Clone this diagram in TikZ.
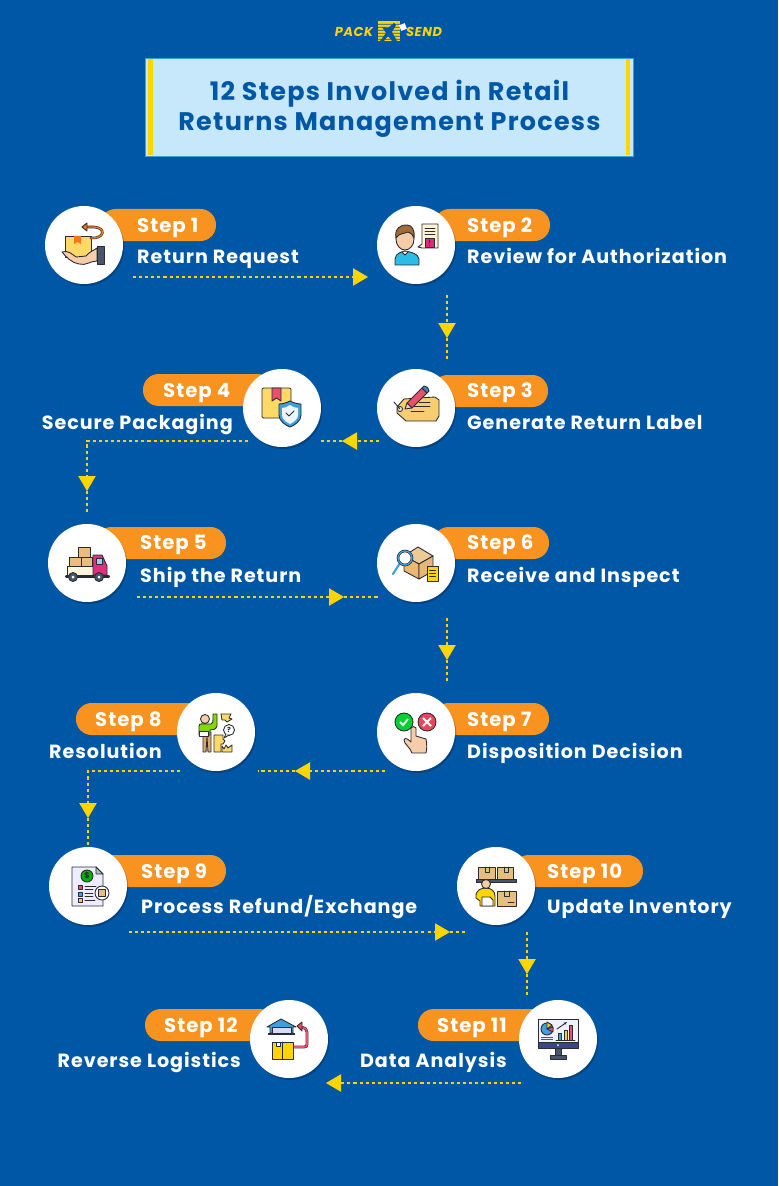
\documentclass[tikz,border=0pt]{standalone}
\usepackage{fontspec}
\setmainfont{Poppins}[LetterSpace=5]
\usepackage{tikz}
\usetikzlibrary{arrows.meta,shadows}

\definecolor{bgblue}{HTML}{0057A6}
\definecolor{boxblue}{HTML}{C6E8FA}
\definecolor{pillorange}{HTML}{F7931E}
\definecolor{markyellow}{HTML}{FFD500}
\definecolor{iconline}{HTML}{2B2B33}
\definecolor{boxtan}{HTML}{E9BE7D}
\definecolor{boxyellow}{HTML}{FFD966}
\definecolor{skin}{HTML}{F5CDA8}
\definecolor{slate}{HTML}{46566E}
\definecolor{rosered}{HTML}{E8506E}
\definecolor{deeppink}{HTML}{E0287F}
\definecolor{skyblue}{HTML}{3F9FDC}

\tikzset{
    stepcircle/.style={circle, fill=white, inner sep=0pt, minimum size=2.34cm,
        drop shadow={shadow xshift=.04cm, shadow yshift=-.06cm, opacity=.22, fill=black}},
    pill/.style={fill=pillorange, rounded corners=.47cm, inner sep=0pt, minimum height=.96cm},
    stepname/.style={anchor=base west, inner sep=0pt, text=white, font=\fontsize{16.8}{18}\selectfont\bfseries},
    steptitle/.style={anchor=base west, inner sep=0pt, text=white, font=\fontsize{16.3}{18}\selectfont\bfseries},
    lefttitle/.style={steptitle, anchor=base east},
    flow/.style={draw=markyellow, line width=.9pt, dash pattern=on 2.6pt off 2.6pt},
    tipped/.style={-{Triangle[length=.45cm, width=.52cm, fill=markyellow]}},
    ink/.style={draw=iconline, line width=.75pt, line join=round, line cap=round},
}

\begin{document}
\begin{tikzpicture}[x=.03cm, y=-.03cm]
    \fill[bgblue] (0,0) rectangle (778,1186);
    \useasboundingbox (0,0) rectangle (778,1186);

    % logo
    \node[inner sep=0pt, text=markyellow, font=\fontsize{11}{11}\selectfont\bfseries\itshape] (pack) at (354,32) {PACK};
    \node[inner sep=0pt, text=markyellow, font=\fontsize{11}{11}\selectfont\bfseries\itshape] (send) at (424,32) {SEND};
    \fill[markyellow] (378,21) rectangle (400,41);
    \fill[bgblue] (378,24) rectangle (400,24.7) (378,27) rectangle (400,27.7) (378,30) rectangle (400,30.7)
        (378,33) rectangle (400,33.7) (378,36) rectangle (400,36.7) (378,39) rectangle (400,39.7);
    \fill[bgblue] (382,27) -- (388,28) -- (394,23) -- (396,25) -- (392,32) -- (397,41) -- (392,41) -- (388,36) -- (384,41) -- (380,41) -- (386,33) -- cycle;
    \fill[white, rotate around={20:(403,27)}] (400,24) rectangle (406,30);
    \node[inner sep=0pt, text=boxblue!70!bgblue, font=\fontsize{3}{3}\selectfont] (reg) at (440,39) {®};

    % title
    \node[draw=skyblue, line width=.5pt, fill=boxblue, minimum width=14.64cm, minimum height=2.94cm, inner sep=0pt] (titlebox) at (389,107) {};
    \fill[markyellow] (148,59) rectangle (153,155);
    \fill[markyellow] (625.5,59) rectangle (630,155);
    \node[inner sep=0pt, text=bgblue, font=\fontsize{21.7}{25.6}\selectfont\bfseries, align=center] (title) at (389.5,109) {12 Steps Involved in Retail\\Returns Management Process};

    % connectors
    \coordinate (a1) at (133,277);
    \coordinate (b1) at (368,277);
    \coordinate (a2) at (447,295);
    \coordinate (t2) at (447,338);
    \coordinate (b2) at (447,360);
    \coordinate (a3) at (379,441);
    \coordinate (t3) at (342,441);
    \coordinate (b3) at (321,441);
    \coordinate (a4) at (248,441);
    \coordinate (t4) at (87,491);
    \coordinate (b4) at (87,512);
    \coordinate (a5) at (137,597);
    \coordinate (t5) at (344,597);
    \coordinate (b5) at (380,597);
    \coordinate (a6) at (447,618);
    \coordinate (t6) at (447,660);
    \coordinate (b6) at (447,683);
    \coordinate (a7) at (385,771);
    \coordinate (t7) at (295,771);
    \coordinate (b7) at (258,771);
    \coordinate (a8) at (180,771);
    \coordinate (t8) at (88,818);
    \coordinate (b8) at (88,845);
    \coordinate (a9) at (129,932);
    \coordinate (t9) at (450,932);
    \coordinate (b9) at (465,932);
    \coordinate (a10) at (527,932);
    \coordinate (t10) at (527,974);
    \coordinate (b10) at (527,997);
    \coordinate (a11) at (521,1083);
    \coordinate (b11) at (326,1083);

    \draw[flow, tipped] (a1) -- (b1);
    \draw[flow, tipped] (a2) -- (t2);
    \draw[flow] (t2) -- (b2);
    \draw[flow, tipped] (a3) -- (t3);
    \draw[flow] (t3) -- (b3);
    \draw[flow, tipped] (a4) -| (t4);
    \draw[flow] (t4) -- (b4);
    \draw[flow, tipped] (a5) -- (t5);
    \draw[flow] (t5) -- (b5);
    \draw[flow, tipped] (a6) -- (t6);
    \draw[flow] (t6) -- (b6);
    \draw[flow, tipped] (a7) -- (t7);
    \draw[flow] (t7) -- (b7);
    \draw[flow, tipped] (a8) -| (t8);
    \draw[flow] (t8) -- (b8);
    \draw[flow, tipped] (a9) -- (t9);
    \draw[flow] (t9) -- (b9);
    \draw[flow, tipped] (a10) -- (t10);
    \draw[flow] (t10) -- (b10);
    \draw[flow, tipped] (a11) -- (b11);

    % pills
    \node[pill, minimum width=3.48cm] (p1) at (158,225) {};
    \node[pill, minimum width=3.48cm] (p2) at (492,225) {};
    \node[pill, minimum width=3.48cm] (p3) at (490,391) {};
    \node[pill, minimum width=3.9cm] (p4) at (208,390) {};
    \node[pill, minimum width=3.9cm] (p5) at (161,543) {};
    \node[pill, minimum width=3.48cm] (p6) at (491,543) {};
    \node[pill, minimum width=3.48cm] (p7) at (491,719) {};
    \node[pill, minimum width=3.9cm] (p8) at (141,719) {};
    \node[pill, minimum width=3.9cm] (p9) at (161,871) {};
    \node[pill, minimum width=3.9cm] (p10) at (578,871) {};
    \node[pill, minimum width=3.9cm] (p11) at (483,1025) {};
    \node[pill, minimum width=3.9cm] (p12) at (210,1025) {};

    % circles
    \node[stepcircle] (c1) at (84,245) {};
    \node[stepcircle] (c2) at (416,245) {};
    \node[stepcircle] (c3) at (416,408) {};
    \node[stepcircle] (c4) at (282,408) {};
    \node[stepcircle] (c5) at (87,563) {};
    \node[stepcircle] (c6) at (416,563) {};
    \node[stepcircle] (c7) at (416,732) {};
    \node[stepcircle] (c8) at (216,732) {};
    \node[stepcircle] (c9) at (88,886) {};
    \node[stepcircle] (c10) at (496,886) {};
    \node[stepcircle] (c11) at (558,1039) {};
    \node[stepcircle] (c12) at (289,1039) {};

    % labels
    \node[stepname] (s1) at (137,232.5) {Step 1};
    \node[steptitle] (n1) at (137,264) {Return Request};
    \node[stepname] (s2) at (467,232.5) {Step 2};
    \node[steptitle] (n2) at (467,264) {Review for Authorization};
    \node[stepname] (s3) at (467,397.5) {Step 3};
    \node[steptitle] (n3) at (467,429) {Generate Return Label};
    \node[stepname] (s4) at (163,397.5) {Step 4};
    \node[lefttitle] (n4) at (233,429) {Secure Packaging};
    \node[stepname] (s5) at (140,549.5) {Step 5};
    \node[steptitle] (n5) at (140,582.5) {Ship the Return};
    \node[stepname] (s6) at (467,549.5) {Step 6};
    \node[steptitle] (n6) at (467,582.5) {Receive and Inspect};
    \node[stepname] (s7) at (467,726.5) {Step 7};
    \node[steptitle] (n7) at (467,758.5) {Disposition Decision};
    \node[stepname] (s8) at (95,726.5) {Step 8};
    \node[lefttitle] (n8) at (162,758.5) {Resolution};
    \node[stepname] (s9) at (141,878.5) {Step 9};
    \node[steptitle] (n9) at (141,913) {Process Refund/Exchange};
    \node[stepname] (s10) at (547,878.5) {Step 10};
    \node[steptitle] (n10) at (547,913) {Update Inventory};
    \node[stepname] (s11) at (437,1032.5) {Step 11};
    \node[lefttitle] (n11) at (507,1067) {Data Analysis};
    \node[stepname] (s12) at (164,1032.5) {Step 12};
    \node[lefttitle] (n12) at (241,1067) {Reverse Logistics};

    % icon 1, hand with box
    \begin{scope}[shift={(c1)}]
        \draw[ink, fill=boxyellow] (-19,-9) rectangle (7,12);
        \fill[pillorange!80!red] (-10,-9) -- (-3,-9) -- (-3,-1) -- (-6.5,-3) -- (-10,-1) -- cycle;
        \draw[ink, fill=skin] (-22,7) .. controls (-16,5) and (-12,9) .. (-8,12) -- (2,11) .. controls (5,7) and (9,6) .. (13,3) -- (13,16) .. controls (6,16) and (2,21) .. (-5,19) .. controls (-12,18) and (-18,12) .. (-22,7) -- cycle;
        \draw[ink, fill=slate] (13,1) rectangle (20,19);
        \draw[draw=iconline, line width=2.2pt, line cap=round] (7,-7) .. controls (20,-6) and (23,-17) .. (10,-18) -- (2,-18);
        \draw[draw=pillorange!85!red, line width=1.1pt, line cap=round] (7,-7) .. controls (20,-6) and (23,-17) .. (10,-18) -- (2,-18);
        \draw[ink, fill=pillorange!85!red] (-2,-18) -- (3,-22) -- (3,-14) -- cycle;
    \end{scope}

    % icon 2, agent with document
    \begin{scope}[shift={(c2)}]
        \draw[ink, fill=skyblue!70!cyan] (-21,20) -- (-21,14) .. controls (-20,8) and (-15,7) .. (-11,6) .. controls (-6,7) and (2,8) .. (3,14) -- (3,20) -- cycle;
        \draw[ink, fill=skin] (-11,-6) ellipse (9 and 11);
        \draw[ink, fill=brown!85!black] (-20,-7) .. controls (-22,-16) and (-15,-21) .. (-9,-20) .. controls (-4,-20) and (-1,-15) .. (-2,-7) .. controls (-4,-10) and (-5,-13) .. (-8,-13) .. controls (-12,-11) and (-17,-12) .. (-20,-7) -- cycle;
        \draw[ink, fill=white] (-14,7) -- (-11,10) -- (-8,7);
        \draw[ink, fill=boxyellow!30!white] (6,-21) -- (22,-21) -- (22,3) -- (6,3) -- (2,2) -- (6,-1) -- cycle;
        \draw[ink] (9,-17) -- (19,-17) (9,-14) -- (19,-14) (9,-11) -- (19,-11);
        \draw[ink, fill=deeppink] (9,-7) rectangle (18,2);
        \draw[ink] (13.5,-5) -- (13.5,-2) (13.5,0) -- (13.5,.3);
    \end{scope}

    % icon 3, label and pencil
    \begin{scope}[shift={(c3)}]
        \draw[ink, fill=boxyellow!60!boxtan] (-19,-1) -- (-12,-9) -- (19,-11) -- (23,-8) -- (23,8) -- (20,13) -- (-10,13) -- (-19,5) -- cycle;
        \draw[ink, fill=white] (-16,1) circle [radius=2.5];
        \draw[ink] (-22,-6) -- (-16,1);
        \draw[ink] (3,-6) -- (14,-6) (-5,-2) -- (14,-2) (-5,3) -- (8,3);
        \draw[ink, fill=rosered] (-9,-5) -- (6,-20) -- (11,-15) -- (-4,0) -- cycle;
        \draw[ink, fill=skyblue!60!slate] (6,-20) -- (8,-22) .. controls (11,-22) and (13,-20) .. (13,-17) -- (11,-15) -- cycle;
        \draw[ink, fill=skin] (-9,-5) -- (-4,0) -- (-11,1) -- cycle;
    \end{scope}

    % icon 4, box with shield
    \begin{scope}[shift={(c4)}]
        \draw[ink, fill=boxyellow, rounded corners=1pt] (-20,-20) rectangle (9,10);
        \draw[ink, fill=rosered] (-10,-20) -- (-1,-20) -- (-1,-7) -- (-5.5,-10) -- (-10,-7) -- cycle;
        \draw[ink, fill=skyblue] (8,-7) .. controls (12,-5) and (16,-4) .. (19,-4) -- (19,7) .. controls (19,13) and (13,17) .. (8,19) .. controls (3,17) and (-3,13) .. (-3,7) -- (-3,-4) .. controls (0,-4) and (4,-5) .. (8,-7) -- cycle;
        \fill[white!90!skyblue] (8,-3) .. controls (11,-1) and (13,0) .. (16,0) -- (16,7) .. controls (16,11) and (12,14) .. (8,16) .. controls (4,14) and (0,11) .. (0,7) -- (0,0) .. controls (3,0) and (5,-1) .. (8,-3) -- cycle;
        \draw[ink] (4,5) -- (7,8) -- (12,3);
    \end{scope}

    % icon 5, truck
    \begin{scope}[shift={(c5)}]
        \draw[ink, fill=boxtan] (-9,-16) rectangle (3,-6);
        \draw[ink, fill=boxtan] (-18,-6) rectangle (-6,3);
        \draw[ink, fill=boxtan] (-6,-6) rectangle (5,3);
        \draw[ink, fill=boxyellow!25!white] (-20,3) rectangle (7,12);
        \draw[ink, fill=deeppink!80!rosered] (6,12) -- (6,-8) -- (15,-8) -- (20,3) -- (20,12) -- cycle;
        \draw[ink, fill=skyblue!50!white] (9,-5) rectangle (15,1);
        \draw[draw=iconline, line width=1.8pt, line cap=round] (-21,13.5) -- (22,13.5);
        \draw[ink, fill=slate] (-14,14) circle [radius=4.5];
        \draw[ink, fill=slate] (12,14) circle [radius=4.5];
        \fill[white] (-14,14) circle [radius=1.5] (12,14) circle [radius=1.5];
    \end{scope}

    % icon 6, box with magnifier
    \begin{scope}[shift={(c6)}]
        \draw[ink, fill=boxtan!80!white] (2,-16) -- (17,-7) -- (3,1) -- (-12,-7) -- cycle;
        \draw[ink, fill=boxtan!90!orange] (-12,-7) -- (3,1) -- (3,16) -- (-12,8) -- cycle;
        \draw[ink, fill=boxtan!90!brown] (17,-7) -- (3,1) -- (3,16) -- (17,8) -- cycle;
        \draw[draw=skyblue, line width=1.8pt, line cap=round] (-16,0) -- (-23,11);
        \draw[draw=iconline, line width=2.2pt, fill=white] (-11,-5) circle [radius=7];
        \draw[draw=skyblue, line width=1.1pt] (-11,-5) circle [radius=7];
        \draw[ink, fill=markyellow] (11,3) rectangle (22,18);
        \draw[ink] (13.5,7) -- (19.5,7) (13.5,10) -- (19.5,10) (13.5,13) -- (19.5,13);
    \end{scope}

    % icon 7, decision
    \begin{scope}[shift={(c7)}]
        \draw[ink, fill=green!65!teal] (-12,-10) circle [radius=9];
        \draw[ink, fill=rosered!85!red] (11,-10) circle [radius=9];
        \draw[draw=white, line width=1.6pt] (-16,-10) -- (-13,-7) -- (-8,-13);
        \draw[draw=white, line width=1.6pt] (7,-14) -- (15,-6) (15,-14) -- (7,-6);
        \draw[ink, fill=skin] (-5,-4) .. controls (-4,-6) and (-1,-6) .. (0,-4) -- (0,4) -- (10,7) .. controls (11,12) and (11,17) .. (10,21) -- (-4,21) .. controls (-6,15) and (-12,12) .. (-12,8) .. controls (-11,5) and (-8,7) .. (-5,10) -- cycle;
    \end{scope}

    % icon 8, person with pieces
    \begin{scope}[shift={(c8)}]
        \draw[ink, fill=boxtan!70!brown] (-13,0) -- (-5,0) -- (-5,20) -- (-8,20) -- (-9,5) -- (-10,20) -- (-13,20) -- cycle;
        \draw[ink, fill=green!40!yellow!85!black] (-17,3) -- (-17,-6) .. controls (-17,-9) and (-14,-8) .. (-5,-8) .. controls (-3,-8) and (-3,-9) .. (-3,-18) -- (1,-18) -- (1,-6) .. controls (0,-2) and (-4,-2) .. (-6,-2) -- (-6,3) -- cycle;
        \draw[ink, fill=skin] (-11,-13) circle [radius=4.5];
        \draw[ink, fill=white] (-17,-1) rectangle (-8,4);
        \draw[ink, fill=boxyellow] (5,-18) -- (15,-18) -- (13,-14) -- (16,-13) -- (11,-10) -- (9,-12) -- (6,-12) -- cycle;
        \draw[ink, fill=white] (13,-2) circle [radius=5.5];
        \draw[ink, fill=white] (10,2) -- (8,6) -- (13,3);
        \node[inner sep=0pt, text=iconline, font=\fontsize{6}{6}\selectfont\bfseries] (ask) at (13,-2) {?};
        \draw[ink, fill=boxyellow] (-2,3) -- (7,3) -- (7,7) -- (9,9) -- (7,12) -- (5,12) -- (5,20) -- (-2,20) -- cycle;
        \draw[ink, fill=boxyellow] (6,14) -- (8,17) -- (10,13) -- (12,16) -- (16,13) -- (16,20) -- (6,20) -- cycle;
    \end{scope}

    % icon 9, refund sheet
    \begin{scope}[shift={(c9)}]
        \draw[ink, fill=blue!7!white] (-16,-19) -- (8,-19) -- (15,-12) -- (15,20) -- (-16,20) -- cycle;
        \draw[ink, fill=slate!40!white] (8,-19) -- (8,-12) -- (15,-12) -- cycle;
        \draw[ink, fill=green!70!black] (-1,-10) circle [radius=6];
        \node[inner sep=0pt, text=iconline, font=\fontsize{7}{7}\selectfont\bfseries] (dollar) at (-1,-10) {\$};
        \draw[ink, fill=rosered] (-10,-1) rectangle (-6,3);
        \draw[ink, fill=skyblue] (-10,6) rectangle (-6,10);
        \draw[ink, fill=markyellow] (-10,12) rectangle (-6,16);
        \draw[ink] (-3,0) -- (8,0) (-3,3) -- (5,3) (-3,7) -- (5,7) (-3,10) -- (5,10) (-3,14) -- (7,14);
        \draw[ink, fill=white] (14,7) circle [radius=7];
        \draw[ink, fill=boxtan] (10.5,3.5) rectangle (17.5,10.5);
    \end{scope}

    % icon 10, shelf with stock
    \begin{scope}[shift={(c10)}]
        \draw[ink, fill=boxtan] (-18,-19) rectangle (-1,-7);
        \draw[ink, fill=boxtan] (1,-19) rectangle (17,-7);
        \draw[ink] (-11,-19) -- (-11,-14) -- (-7,-14) -- (-7,-19) (8,-19) -- (8,-14) -- (12,-14) -- (12,-19);
        \draw[ink, fill=slate] (-20,-7) rectangle (20,-3.5);
        \draw[ink, fill=markyellow] (-20,12) .. controls (-21,4) and (-15,2) .. (-10,2) .. controls (-5,2) and (-1,5) .. (-1,10) -- (-1,20) -- (-16,20) -- (-16,15) -- cycle;
        \draw[ink, fill=skin] (-10,-2) circle [radius=4.5];
        \draw[ink, fill=white] (-14,11) -- (-6,11) -- (-3,14) -- (-3,20) -- (-14,20) -- cycle;
        \draw[ink, fill=boxtan] (1,5) rectangle (20,20);
        \draw[ink] (8,5) -- (8,10) -- (13,10) -- (13,5) (12,16) -- (18,16);
    \end{scope}

    % icon 11, monitor
    \begin{scope}[shift={(c11)}]
        \draw[ink, fill=slate] (-3,9) rectangle (3,16);
        \draw[ink, fill=slate] (-8,16) rectangle (8,20);
        \draw[ink, fill=slate!80!blue] (-20,3) rectangle (20,9);
        \draw[ink, fill=blue!6!white] (-20,-20) rectangle (20,3);
        \fill[white] (0,6) circle [radius=1];
        \draw[ink, fill=skyblue] (-11,-10) circle [radius=6];
        \draw[ink, fill=rosered] (-11,-10) -- (-5,-12) -- (-5,-7) -- cycle;
        \draw[ink, fill=markyellow] (-11,-10) -- (-11,-17) -- (-6,-14) -- cycle;
        \draw[slate, line width=.6pt] (-17,-2) -- (-5,-2) (-17,0) -- (-5,0);
        \draw[ink, fill=skyblue] (0,-6) rectangle (3,1);
        \draw[ink, fill=markyellow] (6,-9) rectangle (9,1);
        \draw[ink, fill=rosered] (11,-14) rectangle (14,1);
        \draw[ink] (-2,1) -- (17,1);
        \draw[ink, -{Stealth[length=3pt]}] (-1,-10) -- (9,-17);
    \end{scope}

    % icon 12, warehouse and parcel
    \begin{scope}[shift={(c12)}]
        \draw[ink, fill=skyblue] (-22,-12) -- (-8,-20) -- (7,-12) -- (4,-12) -- (4,-6) -- (-19,-6) -- (-19,-12) -- cycle;
        \draw[ink, fill=blue!15!white] (-17,-12) rectangle (2,-5);
        \draw[draw=iconline, line width=1.5pt] (-21,-5) -- (6,-5);
        \draw[draw=iconline, line width=2.4pt, line join=round] (4,8) -- (15,8) .. controls (18,8) and (18,7) .. (18,5) -- (18,-7) .. controls (18,-10) and (16,-11) .. (12,-12);
        \draw[draw=rosered, line width=1.4pt, line join=round] (4,8) -- (15,8) .. controls (18,8) and (18,7) .. (18,5) -- (18,-7) .. controls (18,-10) and (16,-11) .. (12,-12);
        \draw[ink, fill=rosered] (8,-13) -- (13,-17) -- (13,-8) -- cycle;
        \draw[ink, fill=markyellow] (-17,3) rectangle (4,20);
        \draw[ink] (-7,3) -- (-7,20);
        \draw[ink, fill=white] (-13,3) rectangle (-9,7);
    \end{scope}
\end{tikzpicture}
\end{document}
